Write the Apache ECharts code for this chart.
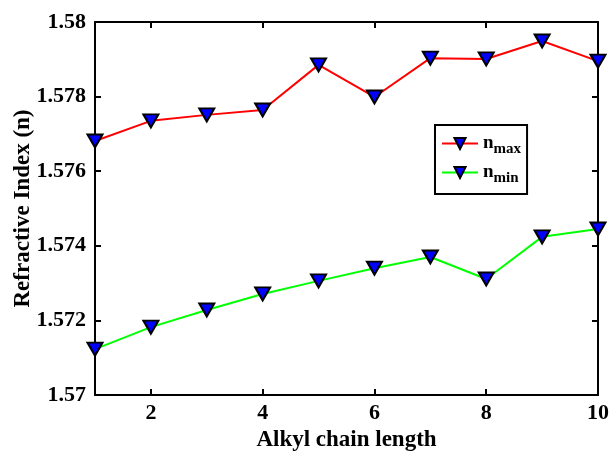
<!DOCTYPE html>
<html>
<head>
<meta charset="utf-8">
<script src="https://cdn.jsdelivr.net/npm/echarts@6/dist/echarts.min.js"></script>
<style>
  html, body { margin: 0; padding: 0; background: #fff; }
  #chart { width: 611px; height: 452px; }
</style>
</head>
<body>
<div id="chart"></div>
<script>
// data
const chainLength = [1, 2, 3, 4, 5, 6, 7, 8, 9, 10]
const nMax = [1.57681, 1.57735, 1.57751, 1.57764, 1.57885, 1.57799, 1.57903, 1.57901, 1.57949, 1.57895]
const nMin = [1.57123, 1.57182, 1.57228, 1.57271, 1.57306, 1.57340, 1.57370, 1.57311, 1.57424, 1.57445]
const xTicks = [2, 4, 6, 8, 10]

const font = 'Liberation Serif'
const downTri = 'path://M0,0 L10,0 L5,9 Z'

const chart = echarts.init(document.getElementById('chart'))

function axisBase(show) {
  return {
    axisLine: { show: true, lineStyle: { color: '#000', width: 2 } },
    axisTick: { show: true, inside: true, length: 6, lineStyle: { color: '#000', width: 2 } },
    splitLine: { show: false },
    axisLabel: { show: show }
  }
}

function pairs(ys) {
  return chainLength.map((x, i) => [x, ys[i]])
}

function lineSeries(name, ys, color) {
  return {
    type: 'line',
    name: name,
    data: pairs(ys),
    symbol: downTri,
    symbolSize: [15, 13],
    itemStyle: { color: '#0000ff', borderColor: '#000', borderWidth: 2 },
    lineStyle: { color: color, width: 2 },
    z: 3
  }
}

const option = {
  animation: false,
  grid: { left: 95, right: 13, top: 22, bottom: 57, outerBoundsMode: 'none' },
  legend: {
    left: 435,
    top: 125,
    orient: 'vertical',
    itemWidth: 36,
    itemHeight: 14,
    itemGap: 6,
    padding: [9, 6, 8, 6],
    borderColor: '#000',
    borderWidth: 2,
    data: ['max', 'min'],
    formatter: name => '{a|n}{b|' + name + '}',
    textStyle: {
      rich: {
        a: { fontFamily: font, fontWeight: 'bold', fontSize: 19, color: '#000' },
        b: { fontFamily: font, fontWeight: 'bold', fontSize: 15, color: '#000', padding: [12, 0, 0, 0] }
      }
    }
  },
  xAxis: [
    Object.assign(axisBase(true), {
      type: 'value', min: 1, max: 10,
      name: 'Alkyl chain length',
      nameLocation: 'middle',
      nameGap: 34,
      nameMoveOverlap: false,
      nameTextStyle: { fontFamily: font, fontWeight: 'bold', fontSize: 23, color: '#000' },
      axisTick: { show: true, inside: true, length: 6, customValues: xTicks, lineStyle: { color: '#000', width: 2 } },
      axisLabel: { customValues: xTicks, fontFamily: font, fontWeight: 'bold', fontSize: 22, color: '#000', margin: 7 }
    }),
    Object.assign(axisBase(false), {
      type: 'value', min: 1, max: 10, position: 'top',
      axisTick: { show: true, inside: true, length: 6, customValues: xTicks, lineStyle: { color: '#000', width: 2 } }
    })
  ],
  yAxis: [
    Object.assign(axisBase(true), {
      type: 'value', min: 1.57, max: 1.58, interval: 0.002,
      name: 'Refractive Index (n)',
      nameLocation: 'middle',
      nameGap: 60,
      nameMoveOverlap: false,
      nameTextStyle: { fontFamily: font, fontWeight: 'bold', fontSize: 23, color: '#000' },
      axisLabel: {
        fontFamily: font, fontWeight: 'bold', fontSize: 22, color: '#000', margin: 9,
        formatter: v => String(+v.toFixed(3))
      }
    }),
    Object.assign(axisBase(false), {
      type: 'value', min: 1.57, max: 1.58, interval: 0.002, position: 'right'
    })
  ],
  series: [
    lineSeries('max', nMax, '#ff0000'),
    lineSeries('min', nMin, '#00ff00')
  ]
}

chart.setOption(option)
</script>
</body>
</html>
